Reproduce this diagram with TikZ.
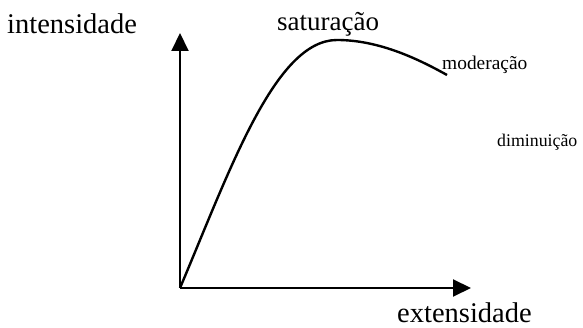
\documentclass[tikz,border=0pt]{standalone}
\usepackage{fontspec}
\setmainfont{Liberation Serif}
\usetikzlibrary{arrows.meta}
\begin{document}
\begin{tikzpicture}[x=1pt,y=-1pt,
  axis/.style={line width=2pt,-{Triangle[length=18pt,width=17pt]}},
  curve/.style={line width=2.4pt},
  lab/.style={anchor=base west,inner sep=0pt,font=\fontsize{#1}{#1}\selectfont}]
\useasboundingbox (0,0) rectangle (583,328);
\coordinate (o) at (180,288);
\coordinate (ytip) at (180,33);
\coordinate (xtip) at (471,288);
\coordinate (peak) at (337,40);
\coordinate (end) at (447,75);
\draw[axis] (o) -- (ytip);
\draw[axis] (o) -- (xtip);
\draw[curve] (o) .. controls (230,170) and (275,40) .. (peak)
  .. controls (380,40) and (420,60) .. (end);
\node[lab=28.5] (int) at (7,34) {intensidade};
\node[lab=28.5] (ext) at (397,323) {extensidade};
\node[lab=27] (sat) at (277,31) {saturação};
\node[lab=19.4] (mod) at (442,70) {moderação};
\node[lab=17.8] (dim) at (497,147) {diminuição};
\end{tikzpicture}
\end{document}
